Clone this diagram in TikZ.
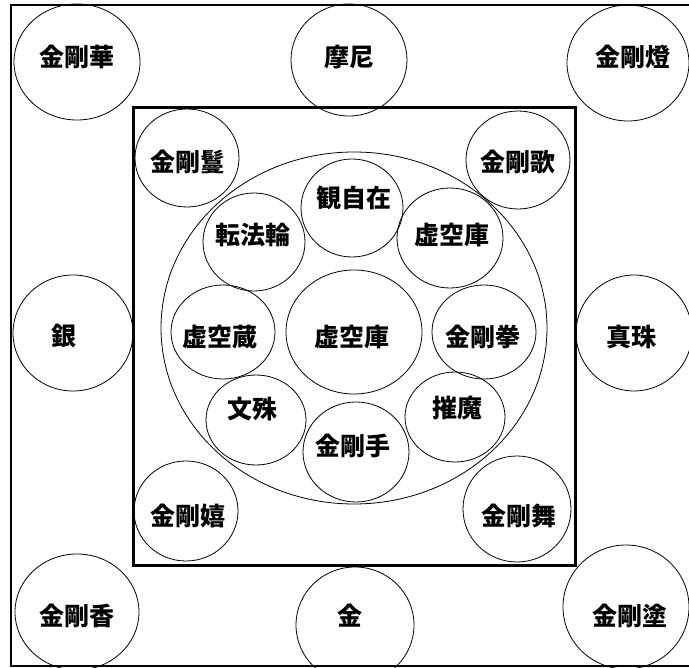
\documentclass[tikz,border=0pt]{standalone}
\usepackage{fontspec}
\newfontfamily\jpfont{Noto Sans CJK JP}
\usetikzlibrary{shapes.geometric}
\tikzset{
  circ/.style={draw, ellipse, inner sep=0pt, line width=0.8pt},
  lab/.style={font=\jpfont\bfseries\fontsize{25}{25}\selectfont, inner sep=0pt},
}
\newcommand{\circnode}[6]{%
  \node[circ, minimum width=#4*2pt, minimum height=#5*2pt] (#1) at (#2,#3) {};}
\begin{document}
\begin{tikzpicture}[x=1pt,y=-1pt]
\useasboundingbox (0,0) rectangle (689,668);
\clip (0,0) rectangle (689,668);
\fill[white] (0,0) rectangle (689,668);
% outer frame
\draw[line width=2pt] (11,5) rectangle (695,666);
% inner frame
\draw[line width=3pt] (133,108) rectangle (575,566);
% outer ring circles
\circnode{hua}{77}{62}{63}{58}{}
\circnode{mani}{349}{60}{58}{56}{}
\circnode{deng}{628}{63}{61}{58}{}
\circnode{gin}{73}{333}{60}{58}{}
\circnode{shinju}{634}{333}{58}{58}{}
\circnode{kou}{77}{612}{62}{58}{}
\circnode{kin}{355}{625}{59}{58}{}
\circnode{zu}{626}{607}{63}{62}{}
% inner box circles
\circnode{man}{187}{158}{52}{49}{}
\circnode{ka}{518}{160}{52}{49}{}
\circnode{big}{354}{328}{193}{176}{}
\circnode{kanjizai}{352}{208}{51}{49}{}
\circnode{tenbo}{254}{242}{51}{49}{}
\circnode{kokukoA}{450}{238}{53}{50}{}
\circnode{kokukoB}{354}{332}{68}{62}{}
\circnode{kokuzo}{223}{332}{52}{47}{}
\circnode{ken}{484}{332}{52}{47}{}
\circnode{monju}{256}{420}{50}{45}{}
\circnode{saima}{455}{417}{50}{45}{}
\circnode{shu}{356}{452}{53}{50}{}
\circnode{ki}{186}{511}{52}{50}{}
\circnode{bu}{517}{509}{54}{53}{}
% labels
\node[lab] (thua) at (77,57) {金剛華};
\node[lab] (tmani) at (349,57) {摩尼};
\node[lab] (tdeng) at (633,57) {金剛燈};
\node[lab] (tgin) at (64,336) {銀};
\node[lab] (tshinju) at (631,337) {真珠};
\node[lab] (tkou) at (77,616) {金剛香};
\node[lab] (tkin) at (350,616) {金};
\node[lab] (tzu) at (630,616) {金剛塗};
\node[lab] (tman) at (188,162) {金剛鬘};
\node[lab] (tka) at (518,162) {金剛歌};
\node[lab] (tkanjizai) at (354,198) {観自在};
\node[lab] (ttenbo) at (253,235) {転法輪};
\node[lab] (tkokukoA) at (452,235) {虚空庫};
\node[lab] (tkokukoB) at (352,337) {虚空庫};
\node[lab] (tkokuzo) at (220,337) {虚空蔵};
\node[lab] (tken) at (483,337) {金剛拳};
\node[lab] (tmonju) at (252,409) {文殊};
\node[lab] (tsaima) at (457,408) {摧魔};
\node[lab] (tshu) at (353,446) {金剛手};
\node[lab] (tki) at (188,516) {金剛嬉};
\node[lab] (tbu) at (519,516) {金剛舞};
\end{tikzpicture}
\end{document}
